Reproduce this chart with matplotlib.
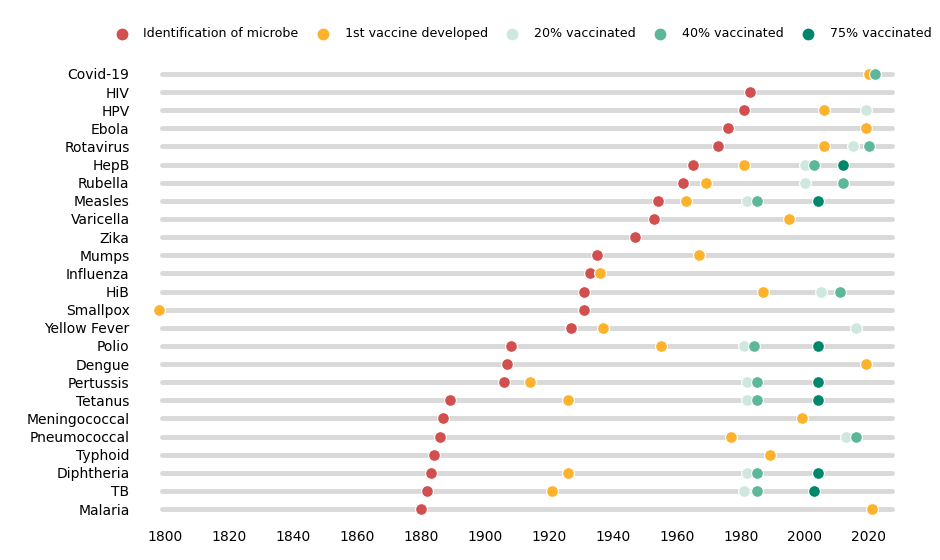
import numpy as np
import matplotlib
matplotlib.use('Agg')
import matplotlib.pyplot as plt

diseases = ['Covid-19', 'HIV', 'HPV', 'Ebola', 'Rotavirus', 'HepB', 'Rubella',
            'Measles', 'Varicella', 'Zika', 'Mumps', 'Influenza', 'HiB',
            'Smallpox', 'Yellow Fever', 'Polio', 'Dengue', 'Pertussis',
            'Tetanus', 'Meningococcal', 'Pneumococcal', 'Typhoid',
            'Diphtheria', 'TB', 'Malaria']

# years (None = no event)
microbe = [None, 1983, 1981, 1976, 1973, 1965, 1962, 1954, 1953, 1947, 1935,
           1933, 1931, 1931, 1927, 1908, 1907, 1906, 1889, 1887, 1886, 1884,
           1883, 1882, 1880]
vaccine = [2020, None, 2006, 2019, 2006, 1981, 1969, 1963, 1995, None, 1967,
           1936, 1987, 1798, 1937, 1955, 2019, 1914, 1926, 1999, 1977, 1989,
           1926, 1921, 2021]
vacc20 = [None, None, 2019, None, 2015, 2000, 2000, 1982, None, None, None,
          None, 2005, None, 2016, 1981, None, 1982, 1982, None, 2013, None,
          1982, 1981, None]
vacc40 = [2022, None, None, None, 2020, 2003, 2012, 1985, None, None, None,
          None, 2011, None, None, 1984, None, 1985, 1985, None, 2016, None,
          1985, 1985, None]
vacc75 = [None, None, None, None, None, 2012, None, 2004, None, None, None,
          None, None, None, None, 2004, None, 2004, 2004, None, None, None,
          2004, 2003, None]

series = [
    ('Identification of microbe', microbe, '#d1504f'),
    ('1st vaccine developed', vaccine, '#fdb22c'),
    ('20% vaccinated', vacc20, '#cfe8dd'),
    ('40% vaccinated', vacc40, '#5db89a'),
    ('75% vaccinated', vacc75, '#00876b'),
]

fig = plt.figure(figsize=(9.4, 5.6), dpi=100)
ax = fig.add_axes([149 / 940, 41 / 560, 755 / 940, 455 / 560])

y = np.arange(len(diseases))[::-1]

# grey tracks
ax.hlines(y, 1799.2, 2027.3, color='#d9d9d9', linewidth=3.5, capstyle='round', zorder=1)

for label, vals, color in series:
    xs = [v for v in vals if v is not None]
    ys = [yy for v, yy in zip(vals, y) if v is not None]
    ax.scatter(xs, ys, s=72, color=color, edgecolors='white', linewidths=0.8,
               zorder=3, label=label)

ax.set_xlim(1795, 2031)
ax.set_ylim(-0.55, len(diseases) - 0.45)
ax.set_yticks(y)
ax.set_yticklabels(diseases, fontsize=10)
ax.set_xticks(np.arange(1800, 2021, 20))
ax.tick_params(axis='x', labelsize=10, length=0, pad=8)
ax.tick_params(axis='y', length=0, pad=14)
for s in ax.spines.values():
    s.set_visible(False)

fig.legend(loc='upper right', bbox_to_anchor=(1.003, 0.972), ncol=5,
           frameon=False, fontsize=9.1, handletextpad=0.7, columnspacing=0.95,
           scatterpoints=1, markerscale=1.1)

fig.savefig('out.png', dpi=100)
